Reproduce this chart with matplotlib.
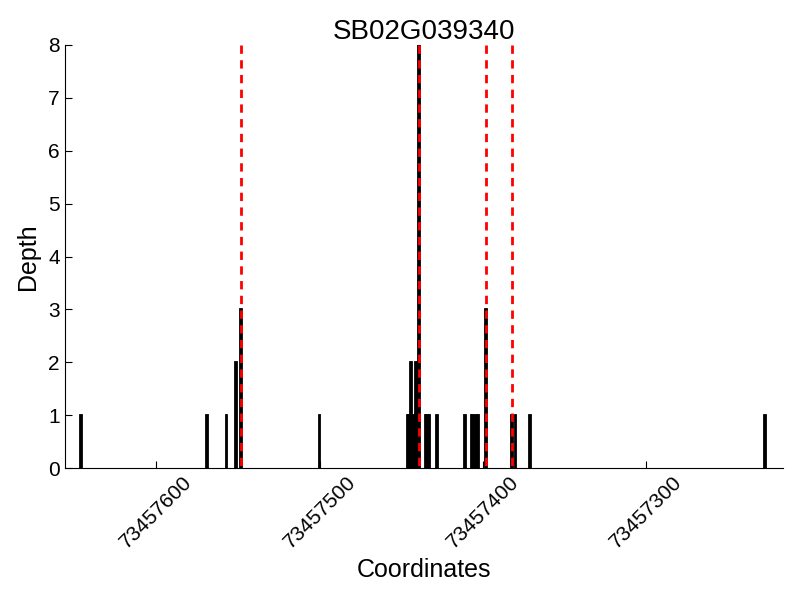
import matplotlib
matplotlib.use('Agg')
import matplotlib.pyplot as plt

plt.rcParams['font.family'] = ['Liberation Sans', 'DejaVu Sans']

gene = 'SB02G039340'

# read depth per coordinate
positions = [73457646, 73457569, 73457557, 73457551, 73457548, 73457500,
             73457446, 73457445, 73457444, 73457442, 73457441, 73457440,
             73457439, 73457435, 73457434, 73457433, 73457428,
             73457411, 73457407, 73457406, 73457404, 73457403, 73457398,
             73457382, 73457380, 73457371, 73457227]
depths = [1, 1, 1, 2, 3, 1,
          1, 1, 2, 1, 2, 2,
          8, 1, 1, 1, 1,
          1, 1, 1, 1, 1, 3,
          1, 1, 1, 1]

# marked sites (red dashed)
sites = [73457548, 73457439, 73457398, 73457382]

fig = plt.figure(figsize=(8, 6), dpi=100)
ax = fig.add_axes([0.081, 0.22, 0.898, 0.705])

ax.bar(positions, depths, width=1, color='black', edgecolor='black', linewidth=1.3)
# draw from the top down so a dash starts at the top
ax.vlines(sites, 8, 0, colors='red', linewidth=2, linestyles=(0, (3, 2.3)), zorder=3)

ax.set_xlim(73457656, 73457216)
ax.set_ylim(0, 8)
ax.set_xticks([73457600, 73457500, 73457400, 73457300])
ax.set_xticklabels(['73457600', '73457500', '73457400', '73457300'], rotation=45)
ax.set_yticks(range(0, 9))

ax.spines['top'].set_visible(False)
ax.spines['right'].set_visible(False)
ax.tick_params(direction='in', length=5, labelsize=15, top=False, right=False)

ax.set_title(gene, fontsize=20, pad=3)
ax.set_xlabel('Coordinates', fontsize=18)
ax.set_ylabel('Depth', fontsize=18, labelpad=6)

plt.savefig('out.png', dpi=100)
